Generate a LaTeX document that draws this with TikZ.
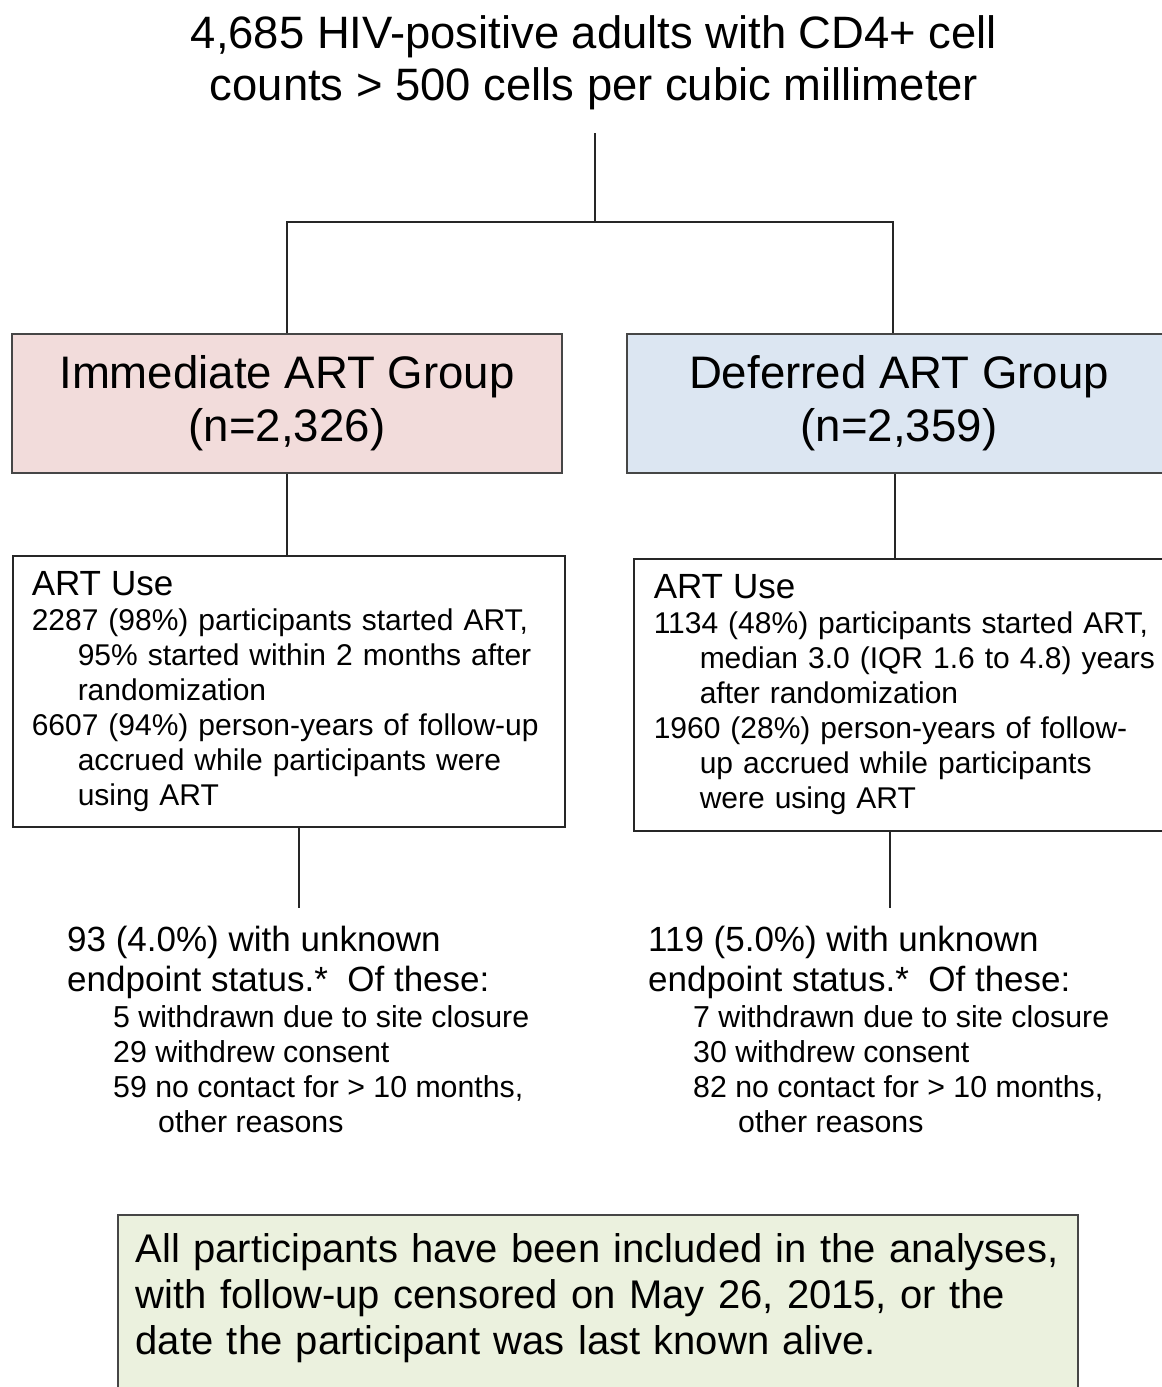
\documentclass[tikz,border=0pt]{standalone}
\usepackage{fontspec}
\setmainfont{Liberation Sans}
\usetikzlibrary{positioning,calc}
\definecolor{immpink}{RGB}{242,220,219}
\definecolor{defblue}{RGB}{220,230,242}
\definecolor{notegreen}{RGB}{235,241,222}
\definecolor{edgegray}{RGB}{70,70,70}
\newcommand{\hangpad}{\hspace*{46pt}}
\newcommand{\usehead}{{\fontsize{35}{36}\selectfont ART Use}}

\tikzset{
  link/.style={line width=1.5pt, black!85},
  groupbox/.style={draw=edgegray, line width=1.5pt, minimum width=550pt, minimum height=139pt,
    align=center, font=\fontsize{45.6}{53}\selectfont},
  usebox/.style={draw=black!85, line width=1.5pt, anchor=north west, align=left,
    inner xsep=19pt, inner ysep=0pt, minimum height=271pt, font=\fontsize{30}{35}\selectfont},
  losshead/.style={anchor=north west, inner sep=0pt, align=left, font=\fontsize{35}{40}\selectfont},
  losslist/.style={anchor=north west, inner sep=0pt, align=left, font=\fontsize{30.3}{35}\selectfont},
  notebox/.style={draw=edgegray, line width=1.5pt, fill=notegreen, anchor=north west, align=left,
    inner xsep=18pt, inner ysep=19pt, font=\fontsize{40}{46}\selectfont},
}

\begin{document}
\begin{tikzpicture}[x=1pt, y=-1pt]
    \clip (0,0) rectangle (1162,1387);

    % Enrolment
    \node[anchor=north, inner sep=0pt, align=center, font=\fontsize{45.4}{52}\selectfont] (title) at (594,15)
        {4,685 HIV-positive adults with CD4+ cell\\counts > 500 cells per cubic millimeter};
    \coordinate (trunk) at (595,133);
    \coordinate (split) at (595,222);

    % Randomized groups
    \node[groupbox, fill=immpink] (imm) at (287,403.5) {Immediate ART Group\\(n=2,326)};
    \node[groupbox, fill=defblue, minimum width=544pt] (def) at (899,403.5) {Deferred ART Group\\(n=2,359)};

    \draw[link] (trunk) -- (split);
    \draw[link] (imm.north) |- (split) -| ([xshift=-6pt]def.north);

    % ART use
    \node[usebox, text width=514pt] (immuse) at (12,555) {\usehead\\
        2287 (98\%) participants started ART,\\
        \hangpad 95\% started within 2 months after\\
        \hangpad randomization\\
        6607 (94\%) person-years of follow-up\\
        \hangpad accrued while participants were\\
        \hangpad using ART};
    \node[usebox, text width=530pt, inner xsep=20pt, minimum height=272pt] (defuse) at (633,558) {\usehead\\
        1134 (48\%) participants started ART,\\
        \hangpad median 3.0 (IQR 1.6 to 4.8) years\\
        \hangpad after randomization\\
        1960 (28\%) person-years of follow-\\
        \hangpad up accrued while participants\\
        \hangpad were using ART};

    \draw[link] (imm.south) -- (imm.south |- immuse.north);
    \draw[link] ([xshift=-4pt]def.south) -- ([xshift=-4pt]def.south |- defuse.north);

    % Unknown endpoint status
    \coordinate (immfoot) at (299,908);
    \coordinate (deffoot) at (890,908);
    \draw[link] (immfoot |- immuse.south) -- (immfoot);
    \draw[link] (deffoot |- defuse.south) -- (deffoot);

    \node[losshead] (immlost) at (67,926) {93 (4.0\%) with unknown\\endpoint status.*~ Of these:};
    \node[losslist] (immwhy) at (113,1005) {5 withdrawn due to site closure\\
        29 withdrew consent\\
        59 no contact for > 10 months,\\
        \hspace*{45pt}other reasons};
    \node[losshead] (deflost) at (648,926) {119 (5.0\%) with unknown\\endpoint status.*~ Of these:};
    \node[losslist] (defwhy) at (693,1005) {7 withdrawn due to site closure\\
        30 withdrew consent\\
        82 no contact for > 10 months,\\
        \hspace*{45pt}other reasons};

    % Analysis note
    \node[notebox, text width=924pt] (note) at (117,1214) {All participants have been included in the analyses,\\
        with follow-up censored on May 26, 2015, or the\\
        date the participant was last known alive.\rule[-80pt]{0pt}{0pt}};
\end{tikzpicture}
\end{document}
